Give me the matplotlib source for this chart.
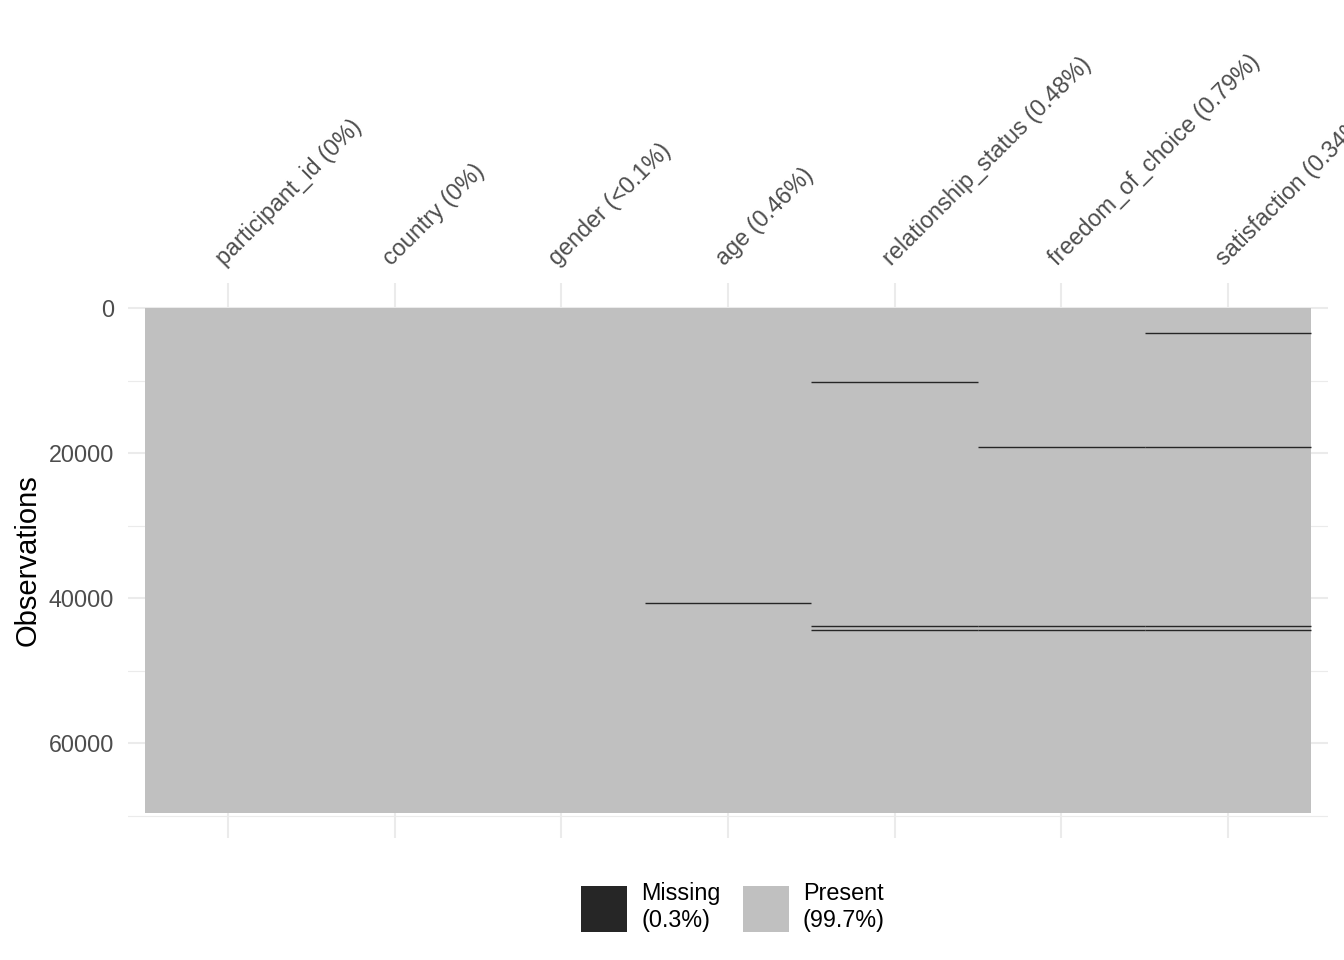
import matplotlib
matplotlib.use("Agg")
from matplotlib import pyplot as plt
from matplotlib.patches import Patch
from matplotlib.transforms import ScaledTranslation

plt.rcParams['font.family'] = ['Liberation Sans', 'DejaVu Sans']

# data
columns = ['participant_id', 'country', 'gender', 'age',
           'relationship_status', 'freedom_of_choice', 'satisfaction']
col_pct = ['0%', '0%', '<0.1%', '0.46%', '0.48%', '0.79%', '0.34%']
n_obs = 69600
# missing blocks per column: (first row, number of rows)
missing_blocks = {
    'participant_id': [],
    'country': [],
    'gender': [],
    'age': [(40560, 320)],
    'relationship_status': [(10124, 112), (43724, 111), (44274, 111)],
    'freedom_of_choice': [(19040, 180), (43688, 185), (44238, 185)],
    'satisfaction': [(3410, 60), (19100, 60), (43750, 60), (44302, 57)],
}
legend_labels = ['Missing\n(0.3%)', 'Present\n(99.7%)']

present_col = '#C0C0C0'
missing_col = '#262626'
grid_col = '#EBEBEB'
text_col = '#4D4D4D'

fig = plt.figure(figsize=(13.44, 9.6), dpi=100)
ax = fig.add_axes([128/1344, 1 - 838/960, 1200/1344, 555/960])

xs = list(range(1, len(columns) + 1))
ax.bar(xs, n_obs, bottom=0.5, width=1.0, color=present_col, linewidth=0, zorder=2)
for i, c in enumerate(columns):
    for start, cnt in missing_blocks[c]:
        # rows are packed into one pixel, drawn as a thin band
        ax.hlines(start + cnt / 2, xs[i] - 0.5, xs[i] + 0.5,
                  color=missing_col, linewidth=1.0, zorder=3)

ax.set_xlim(0.4, len(columns) + 0.6)
ax.set_ylim(1.05 * n_obs + 0.5, 0.5 - 0.05 * n_obs)

ax.set_yticks([0, 20000, 40000, 60000])
ax.set_yticks([10000, 30000, 50000, 70000], minor=True)
ax.set_xticks(xs)
ax.xaxis.tick_top()
ax.set_xticklabels([f'{c} ({p})' for c, p in zip(columns, col_pct)],
                   rotation=45, ha='left', va='bottom', rotation_mode='anchor')
shift = ScaledTranslation(5/100, 0, fig.dpi_scale_trans)
for lab in ax.get_xticklabels():
    lab.set_transform(lab.get_transform() + shift)

ax.tick_params(axis='both', which='both', length=0, colors=text_col, labelsize=16.8)
ax.tick_params(axis='y', pad=10)
ax.tick_params(axis='x', pad=9)
ax.grid(True, which='major', color=grid_col, linewidth=1.5, zorder=0)
ax.grid(True, which='minor', axis='y', color=grid_col, linewidth=0.8, zorder=0)
ax.set_axisbelow(True)
for s in ax.spines.values():
    s.set_visible(False)

ax.set_ylabel('Observations', fontsize=21, color='black', labelpad=5)

handles = [Patch(facecolor=missing_col, edgecolor='none'),
           Patch(facecolor=present_col, edgecolor='none')]
fig.legend(handles, legend_labels, loc='center', bbox_to_anchor=(733/1344, 1 - 907/960),
           ncol=2, frameon=False, fontsize=16.8, handlelength=1.97, handleheight=2.6,
           handletextpad=0.6, columnspacing=0.95)

plt.savefig('out.png', dpi=100)
